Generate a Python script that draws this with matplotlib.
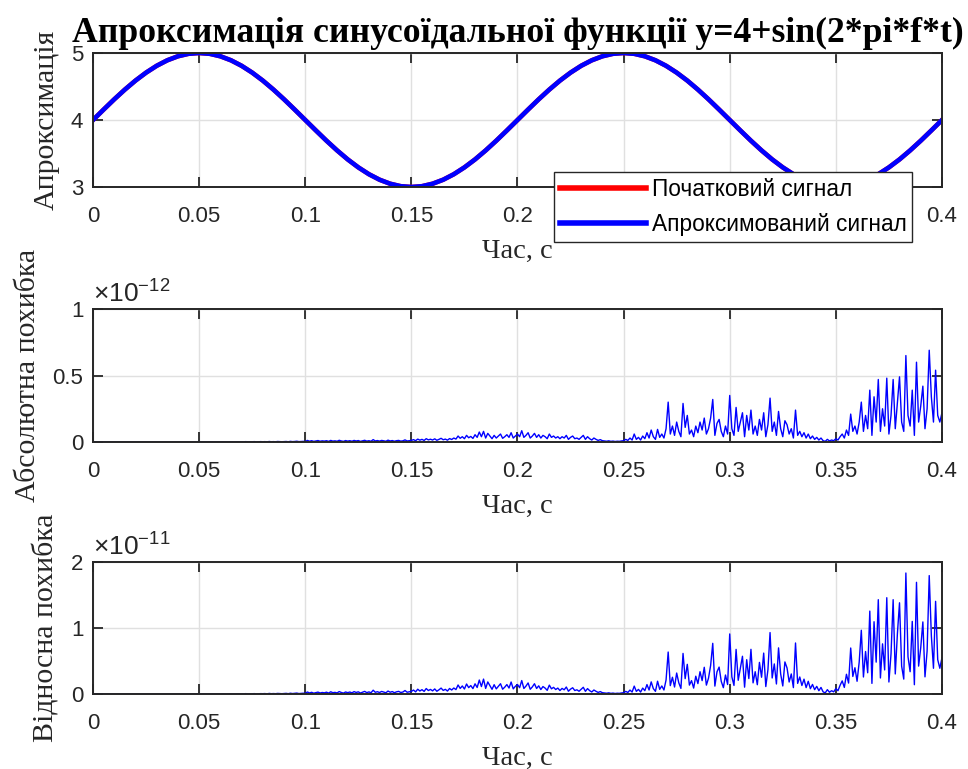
import numpy as np
import matplotlib
matplotlib.use("Agg")
import matplotlib.pyplot as plt
from matplotlib.ticker import FixedLocator, FixedFormatter

# ---------------- data ----------------
t_sig = np.linspace(0.0, 0.4, 81)
signal_values = [
    4.000, 4.156, 4.309, 4.454, 4.588, 4.707, 4.809, 4.891, 4.951, 4.988,
    5.000, 4.988, 4.951, 4.891, 4.809, 4.707, 4.588, 4.454, 4.309, 4.156,
    4.000, 3.844, 3.691, 3.546, 3.412, 3.293, 3.191, 3.109, 3.049, 3.012,
    3.000, 3.012, 3.049, 3.109, 3.191, 3.293, 3.412, 3.546, 3.691, 3.844,
    4.000, 4.156, 4.309, 4.454, 4.588, 4.707, 4.809, 4.891, 4.951, 4.988,
    5.000, 4.988, 4.951, 4.891, 4.809, 4.707, 4.588, 4.454, 4.309, 4.156,
    4.000, 3.844, 3.691, 3.546, 3.412, 3.293, 3.191, 3.109, 3.049, 3.012,
    3.000, 3.012, 3.049, 3.109, 3.191, 3.293, 3.412, 3.546, 3.691, 3.844,
    4.000,
]
approx_values = list(signal_values)

t_err = np.linspace(0.0, 0.4, 401)
# absolute error, units of 1e-12
abs_error = [
    0, 0, 0, 0, 0, 0, 0, 0, 0, 0,
    0, 0, 0, 0, 0, 0, 0, 0, 0, 0,
    0, 0, 0, 0, 0, 0, 0, 0, 0, 0,
    0, 0, 0, 0, 0, 0, 0, 0, 0, 0,
    0, 0, 0, 0, 0, 0, 0, 0, 0, 0,
    0.001, 0.000, 0.001, 0.001, 0.000, 0.001, 0.002, 0.001, 0.000, 0.001,
    0.001, 0.002, 0.001, 0.000, 0.001, 0.002, 0.001, 0.001, 0.002, 0.001,
    0.002, 0.001, 0.003, 0.001, 0.002, 0.002, 0.003, 0.001, 0.002, 0.003,
    0.002, 0.003, 0.001, 0.004, 0.002, 0.003, 0.002, 0.004, 0.003, 0.002,
    0.003, 0.004, 0.002, 0.005, 0.003, 0.004, 0.006, 0.003, 0.004, 0.005,
    0.004, 0.012, 0.006, 0.010, 0.005, 0.008, 0.011, 0.006, 0.009, 0.007,
    0.010, 0.005, 0.012, 0.007, 0.009, 0.006, 0.013, 0.008, 0.005, 0.011,
    0.007, 0.010, 0.006, 0.012, 0.008, 0.011, 0.005, 0.009, 0.013, 0.007,
    0.010, 0.006, 0.018, 0.008, 0.011, 0.007, 0.012, 0.009, 0.006, 0.014,
    0.008, 0.011, 0.006, 0.010, 0.012, 0.007, 0.009, 0.016, 0.008, 0.010,
    0.012, 0.018, 0.010, 0.022, 0.014, 0.020, 0.012, 0.025, 0.016, 0.021,
    0.015, 0.024, 0.013, 0.020, 0.028, 0.017, 0.022, 0.014, 0.026, 0.019,
    0.030, 0.022, 0.045, 0.028, 0.040, 0.025, 0.050, 0.032, 0.042, 0.027,
    0.055, 0.035, 0.075, 0.040, 0.080, 0.030, 0.065, 0.045, 0.025, 0.050,
    0.030, 0.045, 0.060, 0.028, 0.040, 0.055, 0.035, 0.070, 0.030, 0.045,
    0.060, 0.040, 0.085, 0.035, 0.050, 0.070, 0.030, 0.045, 0.065, 0.035,
    0.055, 0.030, 0.050, 0.040, 0.025, 0.060, 0.035, 0.045, 0.030, 0.040,
    0.025, 0.040, 0.030, 0.050, 0.020, 0.035, 0.045, 0.025, 0.030, 0.020,
    0.035, 0.050, 0.020, 0.040, 0.025, 0.015, 0.030, 0.020, 0.012, 0.018,
    0.010, 0.008, 0.006, 0.009, 0.005, 0.007, 0.004, 0.006, 0.005, 0.008,
    0.010, 0.020, 0.012, 0.030, 0.015, 0.060, 0.020, 0.035, 0.015, 0.045,
    0.025, 0.070, 0.030, 0.090, 0.040, 0.020, 0.095, 0.035, 0.060, 0.030,
    0.100, 0.300, 0.060, 0.120, 0.050, 0.150, 0.080, 0.040, 0.290, 0.110,
    0.200, 0.060, 0.090, 0.040, 0.120, 0.070, 0.150, 0.090, 0.180, 0.060,
    0.100, 0.180, 0.320, 0.050, 0.140, 0.170, 0.080, 0.040, 0.120, 0.060,
    0.350, 0.100, 0.050, 0.260, 0.080, 0.150, 0.220, 0.040, 0.200, 0.090,
    0.240, 0.060, 0.120, 0.050, 0.170, 0.090, 0.220, 0.040, 0.130, 0.330,
    0.080, 0.150, 0.050, 0.230, 0.100, 0.040, 0.160, 0.130, 0.060, 0.100,
    0.030, 0.240, 0.050, 0.080, 0.040, 0.070, 0.030, 0.060, 0.025, 0.045,
    0.020, 0.035, 0.015, 0.030, 0.010, 0.005, 0.020, 0.008, 0.015, 0.010,
    0.025, 0.015, 0.040, 0.060, 0.030, 0.090, 0.050, 0.210, 0.080, 0.120,
    0.060, 0.150, 0.300, 0.080, 0.200, 0.100, 0.390, 0.050, 0.340, 0.150,
    0.470, 0.080, 0.250, 0.120, 0.480, 0.060, 0.200, 0.470, 0.100, 0.300,
    0.490, 0.150, 0.080, 0.650, 0.200, 0.120, 0.390, 0.050, 0.600, 0.150,
    0.270, 0.420, 0.100, 0.250, 0.690, 0.340, 0.150, 0.540, 0.200, 0.150,
    0.220,
]
# relative error, units of 1e-11
rel_error = [
    0, 0, 0, 0, 0, 0, 0, 0, 0, 0,
    0, 0, 0, 0, 0, 0, 0, 0, 0, 0,
    0, 0, 0, 0, 0, 0, 0, 0, 0, 0,
    0, 0, 0, 0, 0, 0, 0, 0, 0, 0,
    0, 0, 0, 0, 0, 0, 0, 0, 0, 0,
    0.002, 0.000, 0.002, 0.002, 0.000, 0.002, 0.004, 0.002, 0.000, 0.002,
    0.002, 0.004, 0.002, 0.000, 0.002, 0.004, 0.002, 0.002, 0.004, 0.002,
    0.004, 0.002, 0.006, 0.002, 0.004, 0.004, 0.006, 0.002, 0.004, 0.006,
    0.005, 0.007, 0.002, 0.009, 0.005, 0.007, 0.005, 0.009, 0.007, 0.005,
    0.007, 0.010, 0.005, 0.012, 0.007, 0.010, 0.014, 0.007, 0.010, 0.012,
    0.010, 0.031, 0.016, 0.026, 0.013, 0.021, 0.029, 0.016, 0.023, 0.018,
    0.028, 0.014, 0.034, 0.020, 0.025, 0.017, 0.037, 0.023, 0.014, 0.031,
    0.021, 0.030, 0.018, 0.036, 0.024, 0.033, 0.015, 0.027, 0.040, 0.021,
    0.032, 0.019, 0.058, 0.026, 0.035, 0.023, 0.039, 0.029, 0.019, 0.045,
    0.027, 0.037, 0.020, 0.033, 0.040, 0.023, 0.030, 0.053, 0.027, 0.033,
    0.040, 0.060, 0.033, 0.073, 0.046, 0.066, 0.040, 0.083, 0.053, 0.070,
    0.048, 0.077, 0.042, 0.064, 0.090, 0.055, 0.071, 0.045, 0.084, 0.061,
    0.091, 0.067, 0.137, 0.085, 0.122, 0.076, 0.152, 0.097, 0.128, 0.082,
    0.155, 0.099, 0.212, 0.113, 0.226, 0.085, 0.183, 0.127, 0.071, 0.141,
    0.078, 0.117, 0.156, 0.073, 0.104, 0.143, 0.091, 0.182, 0.078, 0.117,
    0.144, 0.096, 0.204, 0.084, 0.120, 0.168, 0.072, 0.108, 0.156, 0.084,
    0.124, 0.068, 0.113, 0.090, 0.056, 0.135, 0.079, 0.101, 0.068, 0.090,
    0.053, 0.085, 0.064, 0.106, 0.042, 0.074, 0.095, 0.053, 0.064, 0.042,
    0.071, 0.102, 0.041, 0.082, 0.051, 0.031, 0.061, 0.041, 0.024, 0.037,
    0.020, 0.016, 0.012, 0.018, 0.010, 0.014, 0.008, 0.012, 0.010, 0.016,
    0.020, 0.040, 0.024, 0.060, 0.030, 0.120, 0.040, 0.070, 0.030, 0.090,
    0.051, 0.143, 0.061, 0.184, 0.082, 0.041, 0.194, 0.071, 0.122, 0.061,
    0.212, 0.636, 0.127, 0.254, 0.106, 0.318, 0.170, 0.085, 0.615, 0.233,
    0.450, 0.135, 0.203, 0.090, 0.270, 0.158, 0.338, 0.203, 0.405, 0.135,
    0.240, 0.432, 0.768, 0.120, 0.336, 0.408, 0.192, 0.096, 0.288, 0.144,
    0.910, 0.260, 0.130, 0.676, 0.208, 0.390, 0.572, 0.104, 0.520, 0.234,
    0.677, 0.169, 0.338, 0.141, 0.479, 0.254, 0.620, 0.113, 0.367, 0.931,
    0.243, 0.456, 0.152, 0.699, 0.304, 0.122, 0.486, 0.395, 0.182, 0.304,
    0.097, 0.773, 0.161, 0.258, 0.129, 0.225, 0.097, 0.193, 0.081, 0.145,
    0.066, 0.116, 0.050, 0.100, 0.033, 0.017, 0.066, 0.027, 0.050, 0.033,
    0.083, 0.050, 0.133, 0.199, 0.100, 0.299, 0.166, 0.697, 0.266, 0.398,
    0.193, 0.483, 0.966, 0.258, 0.644, 0.322, 1.256, 0.161, 1.095, 0.483,
    1.429, 0.243, 0.760, 0.365, 1.459, 0.182, 0.608, 1.429, 0.304, 0.912,
    1.382, 0.423, 0.226, 1.833, 0.564, 0.338, 1.100, 0.141, 1.692, 0.423,
    0.702, 1.092, 0.260, 0.650, 1.794, 0.884, 0.390, 1.404, 0.520, 0.390,
    0.550,
]

x_ticks = [0, 0.05, 0.1, 0.15, 0.2, 0.25, 0.3, 0.35, 0.4]
x_tick_labels = ["0", "0.05", "0.1", "0.15", "0.2", "0.25", "0.3", "0.35", "0.4"]
top_yticks = [3, 4, 5]
mid_yticks = [0, 0.5, 1]
mid_ytick_labels = ["0", "0.5", "1"]
bot_yticks = [0, 1, 2]

title_text = "Апроксимація синусоїдальної функції y=4+sin(2*pi*f*t)"
xlabel_text = "Час, с"
ylabels = ["Апроксимація", "Абсолютна похибка", "Відносна похибка"]
legend_labels = ["Початковий сигнал", "Апроксимований сигнал"]

# ---------------- style ----------------
AX_COLOR = "#262626"
SERIF = ["Liberation Serif", "DejaVu Serif"]
SANS = ["Liberation Sans", "DejaVu Sans"]
plt.rcParams["font.family"] = SANS
plt.rcParams["mathtext.fontset"] = "custom"
plt.rcParams["mathtext.rm"] = "Liberation Sans"
plt.rcParams["mathtext.it"] = "Liberation Sans"

fig = plt.figure(figsize=(9.68, 7.69), dpi=100)
left, width = 0.0961, 0.877
ax1 = fig.add_axes([left, 0.7568, width, 0.1743])
ax2 = fig.add_axes([left, 0.4252, width, 0.1730])
ax3 = fig.add_axes([left, 0.0975, width, 0.1717])


def style(ax, yticks, ylim, ylabels_txt, ylabel):
    ax.set_xlim(0, 0.4)
    ax.set_ylim(*ylim)
    ax.xaxis.set_major_locator(FixedLocator(x_ticks))
    ax.xaxis.set_major_formatter(FixedFormatter(x_tick_labels))
    ax.yaxis.set_major_locator(FixedLocator(yticks))
    ax.yaxis.set_major_formatter(FixedFormatter(ylabels_txt))
    ax.grid(True, color="#e0e0e0", linewidth=1.0)
    ax.set_axisbelow(True)
    ax.tick_params(direction="in", length=7, width=1.3, colors=AX_COLOR,
                   labelsize=16, top=True, right=True)
    ax.tick_params(axis="x", pad=14)
    ax.tick_params(axis="y", pad=7)
    for s in ax.spines.values():
        s.set_color(AX_COLOR)
        s.set_linewidth(1.4)
    ax.set_xlabel(xlabel_text, family=SERIF, fontsize=20.5, color=AX_COLOR, labelpad=8)
    ax.set_ylabel(ylabel, family=SERIF, fontsize=21.5, color=AX_COLOR, labelpad=8)


# top
l1, = ax1.plot(t_sig, signal_values, color="red", linewidth=3.3)
l2, = ax1.plot(t_sig, approx_values, color="blue", linewidth=3.3)
style(ax1, top_yticks, (3, 5), ["3", "4", "5"], ylabels[0])
ax1.set_title(title_text, family=SERIF, fontsize=25.7, fontweight="bold",
              color="black", pad=8)
leg = fig.legend([l1, l2], legend_labels, loc="upper right",
                 bbox_to_anchor=(0.9425, 0.7765), fontsize=16.3,
                 handlelength=3.8, handleheight=0.7, frameon=True, fancybox=False,
                 framealpha=1.0, borderpad=0.25, labelspacing=0.55,
                 handletextpad=0.25, borderaxespad=0.0)
leg.get_frame().set_edgecolor(AX_COLOR)
leg.get_frame().set_linewidth(1.0)
for txt in leg.get_texts():
    txt.set_color("black")
for h in leg.legend_handles:
    h.set_linewidth(4.0)

# middle
ax2.plot(t_err, abs_error, color="blue", linewidth=1.0)
style(ax2, mid_yticks, (0, 1), mid_ytick_labels, ylabels[1])
ax2.text(0.0, 1.01, r"$\times\mathregular{10^{-12}}$", transform=ax2.transAxes,
         fontsize=19, color=AX_COLOR, ha="left", va="bottom")

# bottom
ax3.plot(t_err, rel_error, color="blue", linewidth=1.0)
style(ax3, bot_yticks, (0, 2), ["0", "1", "2"], ylabels[2])
ax3.text(0.0, 1.01, r"$\times\mathregular{10^{-11}}$", transform=ax3.transAxes,
         fontsize=19, color=AX_COLOR, ha="left", va="bottom")

fig.savefig("out.png", dpi=100)
